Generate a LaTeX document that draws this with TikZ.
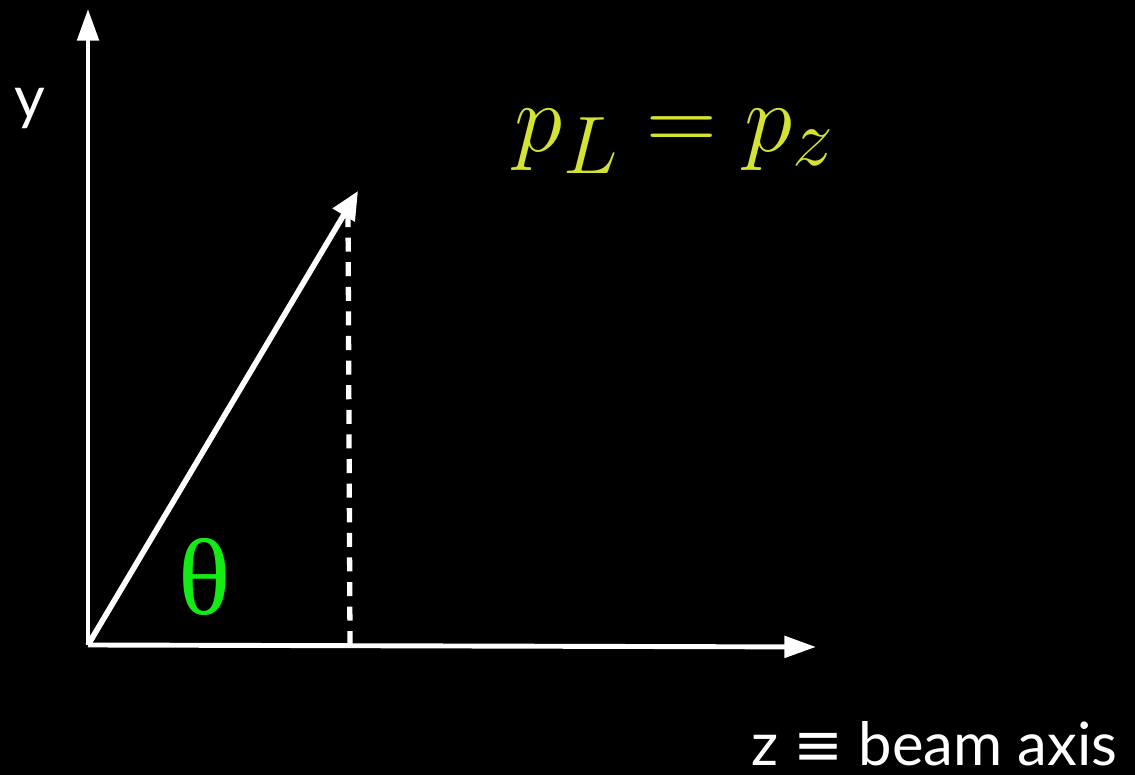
\documentclass[tikz,border=0pt]{standalone}
\usepackage{fontspec}
\setmainfont{Lato}
\newfontfamily\thetafont{Liberation Serif}
\newfontfamily\symbfont{DejaVu Sans}
\usepackage{amsmath}
\usepackage{graphicx}
\usetikzlibrary{arrows.meta, positioning}
\definecolor{LabelYellow}{RGB}{212,226,52}
\definecolor{ThetaGreen}{RGB}{20,235,20}
\tikzset{
  axisline/.style={-{Triangle[length=9pt,width=6pt]}, white, line width=1.4pt},
  momline/.style={-{Triangle[length=8pt,width=7pt]}, white, line width=1.6pt},
  projline/.style={white, line width=1.5pt, dash pattern=on 4pt off 3pt}
}
\begin{document}
\begin{tikzpicture}
  \fill[black] (0,0) rectangle (11.35,7.75);
  \useasboundingbox (0,0) rectangle (11.35,7.75);
  % axes
  \coordinate (O) at (0.88,1.30);
  \coordinate (ytop) at (0.88,7.66);
  \coordinate (zend) at (8.16,1.28);
  \coordinate (tip) at (3.58,5.84);
  \coordinate (ptop) at (3.48,5.62);
  \coordinate (pfoot) at (3.50,1.30);
  \draw[axisline] (O) -- (ytop);
  \draw[axisline] (O) -- (zend);
  \draw[momline] (O) -- (tip);
  \draw[projline] (ptop) -- (pfoot);
  % labels
  \node[text=white, font=\fontsize{17}{20}\selectfont] (ylab) at (0.30,6.66) {y};
  \node[text=LabelYellow, font=\fontsize{24.88}{30}\selectfont] (plab) at (6.75,6.34) {\scalebox{1.12}{$p_L = p_z$}};
  \node[text=ThetaGreen, font=\thetafont\fontsize{31}{36}\selectfont] (thlab) at (2.05,1.98) {θ};
  \node[text=white, font=\fontsize{17}{20}\selectfont, anchor=east] (zlab) at (11.30,0.31) {z {\symbfont ≡} beam axis};
\end{tikzpicture}
\end{document}
